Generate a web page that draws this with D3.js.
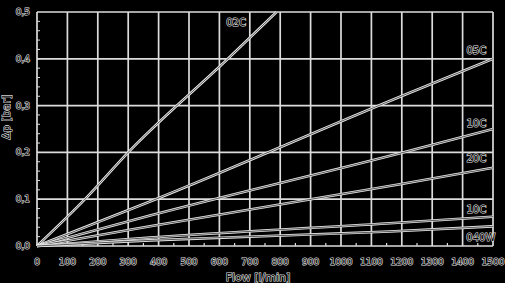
<!DOCTYPE html>
<html>
<head>
<meta charset="utf-8">
<script src="https://cdn.jsdelivr.net/npm/d3@7"></script>
<style>
  body { margin: 0; background: #000; }
  svg text { font-family: "DejaVu Sans", sans-serif; font-size: 9px; fill: #000; stroke: #e8e8e8; stroke-width: 1.1px; paint-order: stroke; }
  svg text.title { font-size: 11px; }
  svg text.lab { font-size: 10px; }
</style>
</head>
<body>
<script>
// flow values [l/min] where each curve was read
var xTicks = d3.range(0, 1501, 100);
var yTicks = [0, 0.1, 0.2, 0.3, 0.4, 0.5];
var yTickLabels = ["0,0", "0,1", "0,2", "0,3", "0,4", "0,5"];

var curveNames = ["02C", "05C", "10C", "20C", "10C", "040W"];
var c02 = [[0, 0], [158, 0.1], [300, 0.2], [628, 0.4], [788, 0.5]];
var c05 = [[0, 0], [372, 0.095], [1194, 0.319], [1500, 0.4]];
var c10 = [[0, 0], [372, 0.065], [1194, 0.198], [1500, 0.25]];
var c20 = [[0, 0], [372, 0.042], [1194, 0.132], [1500, 0.167]];
var c10b = [[0, 0], [372, 0.018], [1161, 0.0485], [1500, 0.0626]];
var c40w = [[0, 0], [372, 0.012], [1161, 0.031], [1500, 0.042]];
var curves = [c02, c05, c10, c20, c10b, c40w];
// label anchor points (flow, bar)
var labelPos = [[655, 0.47], [1445, 0.41], [1445, 0.255], [1445, 0.18], [1445, 0.071], [1460, 0.01]];

var W = 505, H = 283;
var svg = d3.select("body").append("svg")
  .attr("width", W)
  .attr("height", H);

var x = d3.scaleLinear().domain([0, 1500]).range([37, 493]);
var y = d3.scaleLinear().domain([0, 0.5]).range([246, 12]);

var grid = "#dcdcdc";

// vertical grid
svg.append("g").selectAll("line")
  .data(xTicks)
  .enter().append("line")
  .attr("x1", function (d) { return x(d); })
  .attr("x2", function (d) { return x(d); })
  .attr("y1", y(0.5))
  .attr("y2", y(0))
  .attr("stroke", grid)
  .attr("stroke-width", 1.7);

// horizontal grid
svg.append("g").selectAll("line")
  .data(yTicks)
  .enter().append("line")
  .attr("x1", x(0))
  .attr("x2", x(1500))
  .attr("y1", function (d) { return y(d); })
  .attr("y2", function (d) { return y(d); })
  .attr("stroke", grid)
  .attr("stroke-width", 1.7);

// minor ticks
svg.append("g").selectAll("line")
  .data(d3.range(0, 0.5, 0.02))
  .enter().append("line")
  .attr("x1", x(0))
  .attr("x2", x(0) + 3)
  .attr("y1", function (d) { return y(d); })
  .attr("y2", function (d) { return y(d); })
  .attr("stroke", grid)
  .attr("stroke-width", 1);
svg.append("g").selectAll("line")
  .data(d3.range(50, 1500, 100))
  .enter().append("line")
  .attr("x1", function (d) { return x(d); })
  .attr("x2", function (d) { return x(d); })
  .attr("y1", y(0))
  .attr("y2", y(0) - 3)
  .attr("stroke", grid)
  .attr("stroke-width", 1.2);

// tick labels
svg.append("g").selectAll("text")
  .data(yTicks)
  .enter().append("text")
  .attr("x", 30)
  .attr("y", function (d) { return y(d) + 3; })
  .attr("text-anchor", "end")
  .text(function (d, i) { return yTickLabels[i]; });

svg.append("g").selectAll("text")
  .data(xTicks)
  .enter().append("text")
  .attr("x", function (d) { return x(d); })
  .attr("y", 265)
  .attr("text-anchor", "middle")
  .text(function (d) { return d; });

svg.append("text")
  .attr("class", "title")
  .attr("x", 258)
  .attr("y", 281)
  .attr("text-anchor", "middle")
  .text("Flow [l/min]");

svg.append("text")
  .attr("class", "title")
  .attr("transform", "translate(10,117) rotate(-90)")
  .attr("text-anchor", "middle")
  .text("Δp [bar]");

// curves
var line = d3.line()
  .x(function (d) { return x(d[0]); })
  .y(function (d) { return y(d[1]); })
  .curve(d3.curveMonotoneX);

var cg = svg.append("g");
curves.forEach(function (c) {
  cg.append("path").attr("d", line(c))
    .attr("fill", "none").attr("stroke", "#e8e8e8").attr("stroke-width", 2.6);
  cg.append("path").attr("d", line(c))
    .attr("fill", "none").attr("stroke", "#333").attr("stroke-width", 0.8);
});

svg.append("g").selectAll("text")
  .data(curveNames)
  .enter().append("text")
  .attr("class", "lab")
  .attr("x", function (d, i) { return x(labelPos[i][0]); })
  .attr("y", function (d, i) { return y(labelPos[i][1]); })
  .attr("text-anchor", "middle")
  .text(function (d) { return d; });
</script>
</body>
</html>
